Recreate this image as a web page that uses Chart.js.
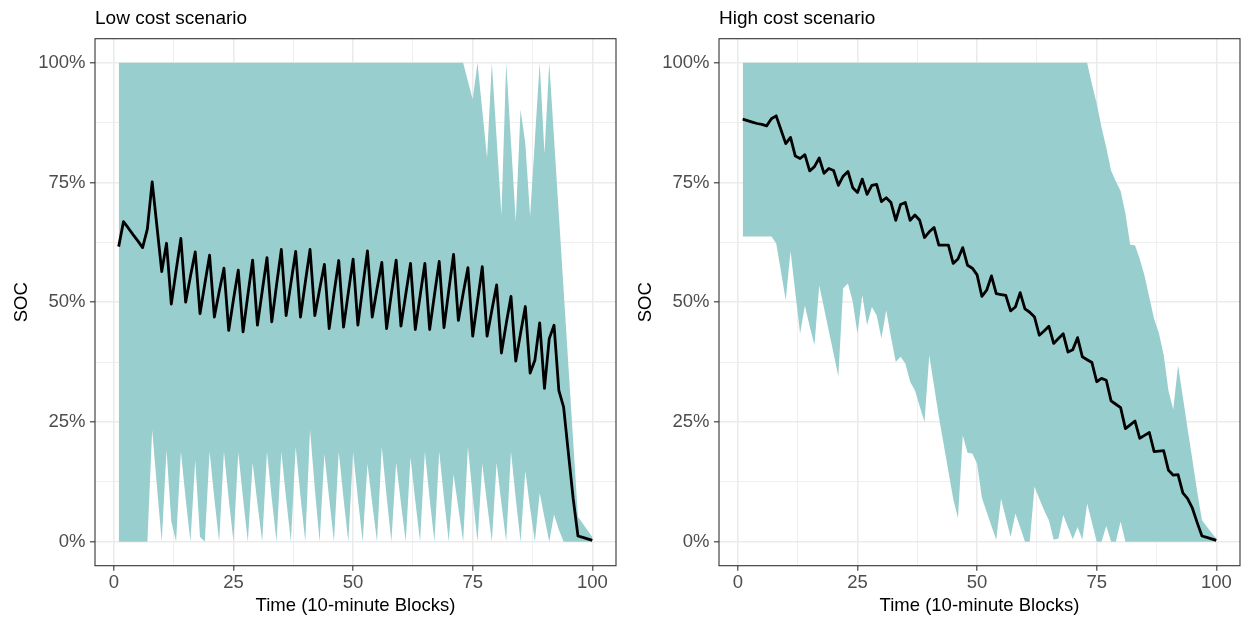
<!DOCTYPE html>
<html>
<head>
<meta charset="utf-8">
<script src="https://cdn.jsdelivr.net/npm/chart.js@4.4.1/dist/chart.umd.min.js"></script>
<style>
  html, body { margin: 0; padding: 0; background: #ffffff; }
  #wrap { position: relative; width: 1247px; height: 619px; overflow: hidden; }
  .panel { position: absolute; top: 0; width: 623px; height: 619px; }
  canvas { display: block; }
</style>
</head>
<body>
<div id="wrap">
  <div class="panel" style="left:0px"><canvas id="lowCost" width="623" height="619"></canvas></div>
  <div class="panel" style="left:624px"><canvas id="highCost" width="623" height="619"></canvas></div>
</div>
<script>
// Time axis: 10-minute blocks
const blocks = [
  1, 2, 3, 4, 5, 6, 7, 8, 9, 10,
  11, 12, 13, 14, 15, 16, 17, 18, 19, 20,
  21, 22, 23, 24, 25, 26, 27, 28, 29, 30,
  31, 32, 33, 34, 35, 36, 37, 38, 39, 40,
  41, 42, 43, 44, 45, 46, 47, 48, 49, 50,
  51, 52, 53, 54, 55, 56, 57, 58, 59, 60,
  61, 62, 63, 64, 65, 66, 67, 68, 69, 70,
  71, 72, 73, 74, 75, 76, 77, 78, 79, 80,
  81, 82, 83, 84, 85, 86, 87, 88, 89, 90,
  91, 92, 93, 94, 95, 96, 97, 98, 99, 100
];

// Low cost scenario: state of charge (%) and its min / max envelope
const lowCostSoc = [
  61.6, 66.8, 65.5, 64.1, 62.8, 61.4, 65.3, 75.1, 65.8, 56.4,
  62.3, 49.6, 56.6, 63.3, 50.0, 55.4, 60.5, 47.6, 53.8, 59.8,
  46.9, 52.2, 57.1, 44.1, 50.6, 56.7, 43.8, 51.5, 58.8, 45.2,
  52.3, 59.3, 45.9, 53.6, 61.0, 47.2, 54.0, 60.6, 46.9, 54.1,
  61.0, 47.2, 52.7, 57.9, 44.5, 51.8, 58.7, 44.8, 52.0, 59.0,
  45.2, 53.1, 60.7, 46.9, 52.8, 58.3, 44.5, 51.8, 58.8, 45.0,
  51.6, 58.1, 44.3, 51.3, 58.1, 44.3, 51.5, 58.5, 44.7, 52.5,
  60.0, 46.2, 51.8, 57.2, 42.9, 50.2, 57.4, 42.9, 48.3, 53.6,
  39.4, 45.5, 51.2, 37.7, 43.5, 49.1, 35.2, 37.9, 45.7, 32.0,
  42.4, 45.2, 31.6, 28.1, 18.5, 9.0, 1.2, 0.9, 0.6, 0.3
];
const lowCostMax = [
  100, 100, 100, 100, 100, 100, 100, 100, 100, 100,
  100, 100, 100, 100, 100, 100, 100, 100, 100, 100,
  100, 100, 100, 100, 100, 100, 100, 100, 100, 100,
  100, 100, 100, 100, 100, 100, 100, 100, 100, 100,
  100, 100, 100, 100, 100, 100, 100, 100, 100, 100,
  100, 100, 100, 100, 100, 100, 100, 100, 100, 100,
  100, 100, 100, 100, 100, 100, 100, 100, 100, 100,
  100, 100, 100, 96.1, 92.3, 100, 90.0, 80.1, 100, 84.1,
  68.2, 100, 83.4, 66.8, 90.2, 83.1, 67.9, 84.0, 100, 81.0,
  100, 84.2, 68.4, 52.6, 36.8, 21.0, 5.2, 3.8, 2.4, 1.0
];
const lowCostMin = [
  0, 0, 0, 0, 0, 0, 0, 23.3, 11.5, 0,
  19.1, 4.2, 0, 18.8, 9.0, 0, 17.0, 1.0, 0, 18.8,
  9.0, 0, 18.8, 9.0, 0, 18.6, 9.0, 0, 16.5, 8.0,
  0, 18.8, 9.0, 0, 18.8, 9.0, 0, 19.8, 9.5, 0,
  23.4, 11.0, 0, 18.3, 9.0, 0, 18.8, 9.0, 0, 18.8,
  9.0, 0, 16.3, 8.0, 0, 19.8, 9.5, 0, 16.5, 8.0,
  0, 17.6, 8.5, 0, 18.8, 9.0, 0, 18.8, 9.0, 0,
  14.1, 7.0, 0, 19.8, 9.5, 0, 16.3, 8.0, 0, 16.5,
  8.0, 0, 18.8, 9.0, 0, 14.8, 7.0, 0, 10.2, 5.0,
  0, 5.7, 2.5, 0, 0, 0, 0, 0, 0, 0
];

// High cost scenario: state of charge (%) and its min / max envelope
const highCostSoc = [
  88.2, 87.9, 87.6, 87.3, 87.1, 86.8, 88.3, 88.9, 86.0, 83.1,
  84.4, 80.5, 80.0, 80.8, 77.4, 78.3, 80.1, 76.9, 77.9, 77.5,
  74.4, 76.3, 77.3, 73.9, 72.9, 75.7, 72.5, 74.4, 74.6, 71.0,
  71.8, 70.8, 67.1, 70.4, 70.8, 67.1, 68.2, 67.1, 63.5, 64.7,
  65.6, 61.9, 61.9, 61.9, 58.1, 59.0, 61.4, 57.7, 57.1, 55.7,
  51.2, 52.5, 55.5, 51.8, 51.6, 51.4, 48.2, 49.0, 52.0, 48.6,
  47.9, 46.9, 43.1, 44.0, 45.0, 41.4, 42.4, 43.4, 39.6, 40.1,
  42.6, 38.6, 38.0, 37.4, 33.4, 34.1, 33.7, 29.4, 28.7, 28.0,
  23.6, 24.4, 25.2, 21.6, 22.2, 22.8, 18.8, 18.9, 19.0, 14.9,
  13.9, 14.0, 10.2, 9.0, 7.0, 4.0, 1.2, 0.9, 0.6, 0.3
];
const highCostMax = [
  100, 100, 100, 100, 100, 100, 100, 100, 100, 100,
  100, 100, 100, 100, 100, 100, 100, 100, 100, 100,
  100, 100, 100, 100, 100, 100, 100, 100, 100, 100,
  100, 100, 100, 100, 100, 100, 100, 100, 100, 100,
  100, 100, 100, 100, 100, 100, 100, 100, 100, 100,
  100, 100, 100, 100, 100, 100, 100, 100, 100, 100,
  100, 100, 100, 100, 100, 100, 100, 100, 100, 100,
  100, 100, 100, 95.5, 91.5, 86.5, 82.3, 77.5, 75.2, 73.2,
  68.5, 62.0, 61.9, 59.0, 55.5, 51.0, 46.5, 43.5, 39.0, 31.5,
  27.6, 36.8, 30.2, 23.6, 17.1, 10.5, 4.5, 3.2, 1.9, 0.7
];
const highCostMin = [
  63.7, 63.7, 63.7, 63.7, 63.7, 63.7, 63.7, 62.3, 56.4, 50.4,
  60.7, 52.0, 43.4, 49.3, 45.0, 41.0, 53.5, 48.8, 44.0, 39.3,
  34.5, 52.9, 53.9, 50.1, 43.4, 51.5, 45.2, 49.0, 47.3, 42.4,
  48.3, 42.7, 37.5, 38.6, 37.2, 33.4, 31.6, 28.3, 25.0, 38.9,
  32.5, 26.1, 20.4, 14.7, 9.0, 4.9, 22.2, 18.6, 18.4, 16.3,
  9.2, 6.2, 3.3, 0.4, 9.0, 5.0, 1.0, 5.9, 3.0, 0,
  0, 11.5, 9.0, 6.6, 4.5, 0.4, 0.7, 5.6, 3.0, 0.5,
  3.1, 0.4, 8.0, 4.0, 0, 0, 3.3, 0, 0, 4.2,
  0, 0, 0, 0, 0, 0, 0, 0, 0, 0,
  0, 0, 0, 0, 0, 0, 0, 0, 0, 0
];

// Axis breaks
const majorBreaks = [0, 25, 50, 75, 100];
const minorBreaks = [12.5, 37.5, 62.5, 87.5];
const gridBreaks = [...majorBreaks, ...minorBreaks].sort((a, b) => a - b);

const FONT = "'Liberation Sans', Arial, Helvetica, sans-serif";
const RIBBON = '#99CECE';
const GRID = '#EBEBEB';
const FRAME = '#333333';

const isMajor = v => majorBreaks.includes(v);
const toPoints = values => blocks.map((t, i) => ({ x: t, y: values[i] }));

// Dark frame around the plotting panel, drawn on top of everything
const panelFrame = {
  id: 'panelFrame',
  afterDraw(chart) {
    const { ctx, chartArea: a } = chart;
    ctx.save();
    ctx.strokeStyle = FRAME;
    ctx.lineWidth = 1.1;
    ctx.strokeRect(a.left, a.top, a.right - a.left, a.bottom - a.top);
    ctx.restore();
  }
};

function gridOptions() {
  return {
    drawOnChartArea: true,
    drawTicks: true,
    tickLength: 5,
    tickWidth: 1.1,
    color: GRID,
    lineWidth: ctx => (ctx.tick && isMajor(ctx.tick.value)) ? 1.6 : 0.8,
    tickColor: ctx => (ctx.tick && isMajor(ctx.tick.value)) ? FRAME : 'rgba(0,0,0,0)'
  };
}

function buildPanel(canvasId, title, soc, lo, hi) {
  return new Chart(document.getElementById(canvasId), {
    type: 'line',
    data: {
      datasets: [
        {
          label: 'SOC',
          data: toPoints(soc),
          borderColor: '#000000',
          borderWidth: 2.8,
          borderJoinStyle: 'round',
          pointRadius: 0,
          fill: false,
          tension: 0
        },
        {
          label: 'SOC max',
          data: toPoints(hi),
          borderColor: 'rgba(0,0,0,0)',
          borderWidth: 0,
          pointRadius: 0,
          backgroundColor: RIBBON,
          fill: '+1',
          tension: 0
        },
        {
          label: 'SOC min',
          data: toPoints(lo),
          borderColor: 'rgba(0,0,0,0)',
          borderWidth: 0,
          pointRadius: 0,
          fill: false,
          tension: 0
        }
      ]
    },
    options: {
      responsive: false,
      animation: false,
      devicePixelRatio: 1,
      events: [],
      layout: { padding: { left: 0, right: 7, top: 0, bottom: 0 } },
      plugins: {
        legend: { display: false },
        tooltip: { enabled: false },
        title: {
          display: true,
          text: title,
          align: 'start',
          fullSize: false,
          color: '#000000',
          font: { family: FONT, size: 19, weight: 'normal' },
          padding: { top: 6.9, bottom: 9 }
        }
      },
      scales: {
        x: {
          type: 'linear',
          min: -3.95,
          max: 104.95,
          afterBuildTicks: s => { s.ticks = gridBreaks.map(v => ({ value: v })); },
          afterFit: s => { s.height = 53.3; },
          ticks: {
            autoSkip: false,
            maxRotation: 0,
            minRotation: 0,
            padding: 1.5,
            color: '#4D4D4D',
            font: { family: FONT, size: 18.5 },
            callback: v => isMajor(v) ? String(v) : ''
          },
          grid: gridOptions(),
          border: { display: false },
          title: {
            display: true,
            text: 'Time (10-minute Blocks)',
            color: '#000000',
            font: { family: FONT, size: 18.5 },
            padding: { top: 0, bottom: 2.2 }
          }
        },
        y: {
          type: 'linear',
          min: -5,
          max: 105,
          afterBuildTicks: s => { s.ticks = gridBreaks.map(v => ({ value: v })); },
          afterFit: s => { s.width = 95; },
          ticks: {
            autoSkip: false,
            padding: 4.5,
            color: '#4D4D4D',
            font: { family: FONT, size: 18.5 },
            callback: v => isMajor(v) ? v + '%' : ''
          },
          grid: gridOptions(),
          border: { display: false },
          title: {
            display: true,
            text: 'SOC',
            color: '#000000',
            font: { family: FONT, size: 18.5 },
            padding: { top: 11, bottom: 0 }
          }
        }
      }
    },
    plugins: [panelFrame]
  });
}

buildPanel('lowCost', 'Low cost scenario', lowCostSoc, lowCostMin, lowCostMax);
buildPanel('highCost', 'High cost scenario', highCostSoc, highCostMin, highCostMax);
</script>
</body>
</html>
